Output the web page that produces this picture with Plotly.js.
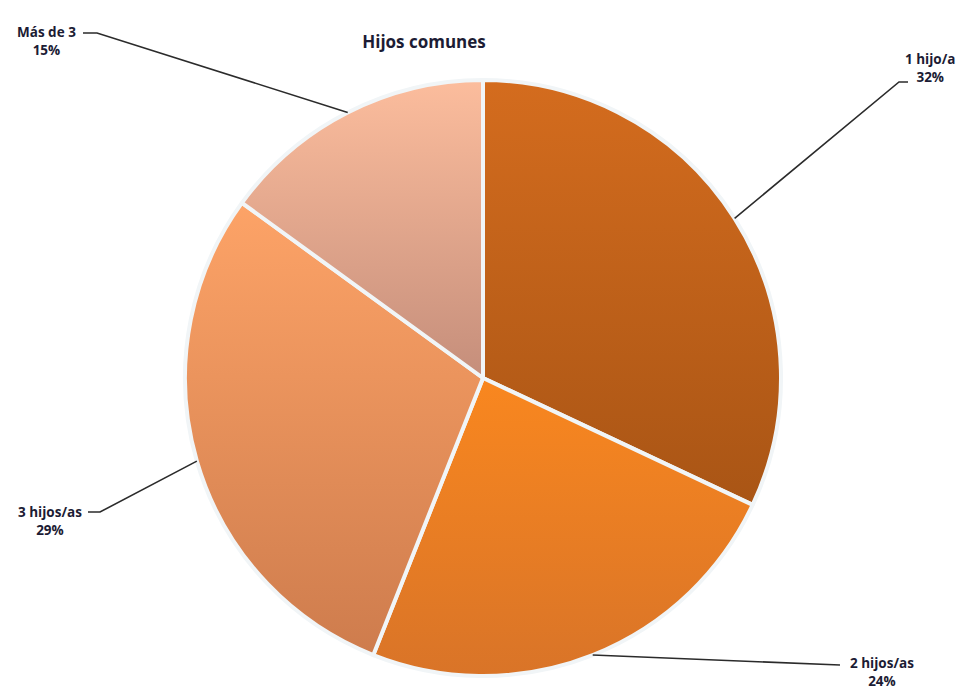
<!DOCTYPE html>
<html>
<head>
<meta charset="utf-8">
<script src="https://cdn.plot.ly/plotly-3.0.1.min.js"></script>
<style>
  html, body { margin: 0; padding: 0; background: #ffffff; }
  #chart { width: 960px; height: 691px; }
</style>
</head>
<body>
<div id="chart"></div>
<script>
// Number of children in common
const categories = ['1 hijo/a', '2 hijos/as', '3 hijos/as', 'Más de 3'];
const values = [32, 24, 29, 15];

// Top / bottom colours of each slice's vertical gradient
const topColors = ['#D46C1E', '#F9871F', '#FDA367', '#FCBD9D'];
const bottomColors = ['#A95515', '#D97428', '#CE7C4D', '#C58E7B'];

// Where each label sits and where its leader line bends (pixels)
const labelPos = [
  { x: 930, y: 68, bend: [[899, 82], [908, 82]] },
  { x: 882, y: 672, bend: [[840, 665]] },
  { x: 50, y: 521, bend: [[100, 512], [88, 512]] },
  { x: 46, y: 41, bend: [[97, 33], [83, 33]] }
];

const W = 960, H = 691;
const cx = 483, cy = 378, R = 298;
const px = x => x / W;
const py = y => 1 - y / H;

const total = values.reduce((a, b) => a + b, 0);

// Leader lines start at the outer edge of each slice, at its mid angle
const shapes = [];
const annotations = [];
let acc = 0;
values.forEach((v, i) => {
  const mid = (acc + v / 2) / total * 2 * Math.PI;
  acc += v;
  const ex = cx + R * Math.sin(mid);
  const ey = cy - R * Math.cos(mid);
  const pts = [[ex, ey]].concat(labelPos[i].bend);
  const path = pts.map((p, k) => (k === 0 ? 'M' : 'L') + px(p[0]) + ',' + py(p[1])).join(' ');
  shapes.push({
    type: 'path', xref: 'paper', yref: 'paper', path: path,
    line: { color: '#2b2b2b', width: 1.6 }
  });
  annotations.push({
    xref: 'paper', yref: 'paper', x: px(labelPos[i].x), y: py(labelPos[i].y),
    xanchor: 'center', yanchor: 'middle', showarrow: false, align: 'center',
    text: categories[i] + '<br>' + Math.round(v / total * 100) + '%',
    font: { family: 'Open Sans, sans-serif', size: 13.5, color: '#1c1c34', weight: 'bold' }
  });
});

const trace = {
  type: 'pie',
  labels: categories,
  values: values,
  sort: false,
  direction: 'clockwise',
  rotation: 0,
  textinfo: 'none',
  hoverinfo: 'label+percent',
  marker: { colors: topColors, line: { color: '#F1F5F7', width: 4 } },
  domain: { x: [px(cx - R), px(cx + R)], y: [py(cy + R), py(cy - R)] },
  showlegend: false
};

const layout = {
  width: W, height: H,
  margin: { l: 0, r: 0, t: 0, b: 0 },
  paper_bgcolor: '#ffffff',
  title: {
    text: '<b>Hijos comunes</b>',
    x: px(424), y: py(42), xanchor: 'center', yanchor: 'middle',
    font: { family: 'Open Sans, sans-serif', size: 17, color: '#1c1c34' }
  },
  shapes: shapes,
  annotations: annotations
};

Plotly.newPlot('chart', [trace], layout, { displayModeBar: false, staticPlot: true }).then(gd => {
  // Give each slice a soft top-to-bottom gradient
  const svg = gd.querySelector('svg.main-svg');
  const NS = 'http://www.w3.org/2000/svg';
  let defs = svg.querySelector('defs');
  if (!defs) { defs = document.createElementNS(NS, 'defs'); svg.insertBefore(defs, svg.firstChild); }
  topColors.forEach((c, i) => {
    const g = document.createElementNS(NS, 'linearGradient');
    g.setAttribute('id', 'sliceGrad' + i);
    g.setAttribute('x1', '0'); g.setAttribute('y1', '0');
    g.setAttribute('x2', '0'); g.setAttribute('y2', '1');
    [[0, c], [1, bottomColors[i]]].forEach(s => {
      const st = document.createElementNS(NS, 'stop');
      st.setAttribute('offset', s[0]);
      st.setAttribute('stop-color', s[1]);
      g.appendChild(st);
    });
    defs.appendChild(g);
  });
  gd.querySelectorAll('g.slice').forEach((sl, i) => {
    const p = sl.querySelector('path.surface');
    if (p) p.style.fill = 'url(#sliceGrad' + i + ')';
  });
});
</script>
</body>
</html>
